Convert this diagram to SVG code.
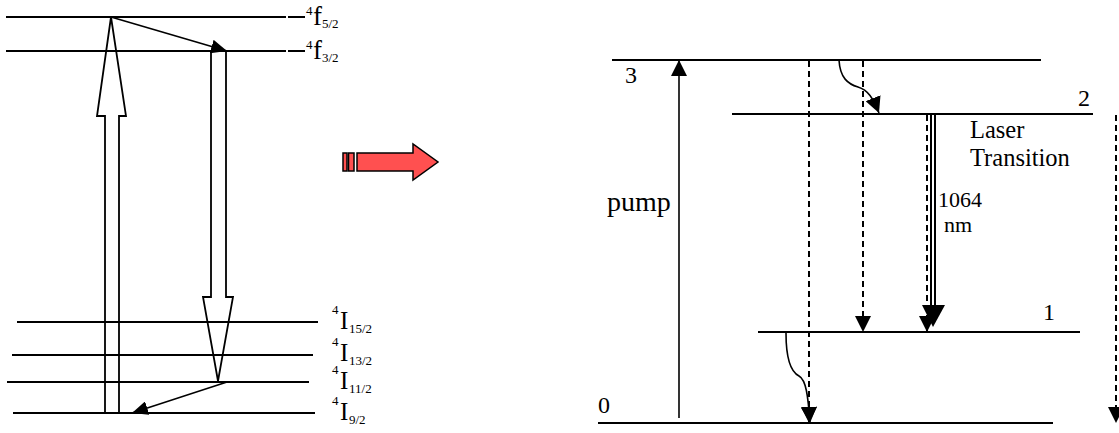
<svg xmlns="http://www.w3.org/2000/svg" width="1119" height="433" viewBox="0 0 1119 433">
<style>
.lvl{stroke:#000;stroke-width:2;fill:none}
.thin{stroke:#000;stroke-width:1.6;fill:none}
.dash{stroke:#000;stroke-width:2;fill:none;stroke-dasharray:6 4}
.hollow{stroke:#000;stroke-width:1.8;fill:none;stroke-linejoin:miter}
text{font-family:'Liberation Serif','Times New Roman','DejaVu Serif',serif;fill:#000}
.m{font-size:27px}
.mi{font-size:25px}
.s{font-size:13px}
.d{font-size:24px}
.head{fill:#000;stroke:none}
</style>
<defs>
<marker id="ah" viewBox="0 0 16 16" markerWidth="16" markerHeight="16" refX="16" refY="8" orient="auto" markerUnits="userSpaceOnUse"><path d="M0,0 L16,8 L0,16 z" fill="#000"/></marker>
<marker id="ahs" viewBox="0 0 16 14" markerWidth="16" markerHeight="14" refX="16" refY="7" orient="auto" markerUnits="userSpaceOnUse"><path d="M0,0 L16,7 L0,14 z" fill="#000"/></marker>
</defs>
<rect width="1119" height="433" fill="#fff"/>

<g id="left-levels">
<g id="f52"><line class="lvl" x1="6" y1="17" x2="286" y2="17"/><line class="lvl" x1="288" y1="17" x2="305" y2="17"/>
<text class="s" x="306" y="15">4</text><text class="m" x="313" y="25">f</text><text class="s" x="322" y="28">5/2</text></g>
<g id="f32"><line class="lvl" x1="6" y1="51" x2="286" y2="51"/><line class="lvl" x1="288" y1="51" x2="305" y2="51"/>
<text class="s" x="306" y="49">4</text><text class="m" x="313" y="59">f</text><text class="s" x="322" y="62">3/2</text></g>
<g id="I152"><line class="lvl" x1="17" y1="322" x2="318" y2="322"/>
<text class="s" x="332" y="314">4</text><text class="mi" x="340" y="329">I</text><text class="s" x="349" y="333">15/2</text></g>
<g id="I132"><line class="lvl" x1="12" y1="355" x2="313" y2="355"/>
<text class="s" x="332" y="346">4</text><text class="mi" x="340" y="361">I</text><text class="s" x="349" y="365">13/2</text></g>
<g id="I112"><line class="lvl" x1="7" y1="382" x2="309" y2="382"/>
<text class="s" x="332" y="374">4</text><text class="mi" x="340" y="389">I</text><text class="s" x="349" y="393">11/2</text></g>
<g id="I92"><line class="lvl" x1="13" y1="413" x2="315" y2="413"/>
<text class="s" x="332" y="405">4</text><text class="mi" x="340" y="420">I</text><text class="s" x="349" y="424">9/2</text></g>
</g>

<g id="left-connectors">
<polygon class="hollow" points="111,17 126,116 119,116 119,413 105,413 105,116 97,116"/>
<polygon class="hollow" points="211,51 226,51 226,297 233,297 218,381 203,297 211,297"/>
<line class="thin" x1="111" y1="17" x2="227" y2="51" marker-end="url(#ahs)"/>
<line class="thin" x1="227" y1="382" x2="132" y2="413" marker-end="url(#ahs)"/>
</g>

<g id="red-arrow">
<rect x="343" y="153" width="4" height="18" fill="#ff5050" stroke="#000" stroke-width="1.5"/>
<rect x="348.5" y="153" width="5.5" height="18" fill="#ff5050" stroke="#000" stroke-width="1.5"/>
<polygon points="357,153 413,153 413,144 438,162 413,180 413,171 357,171" fill="#ff5050" stroke="#000" stroke-width="1.5" stroke-linejoin="miter"/>
</g>

<g id="right-levels">
<g id="L3"><line class="lvl" x1="612" y1="60" x2="1041" y2="60"/><text class="d" x="625" y="83">3</text></g>
<g id="L2"><line class="lvl" x1="732" y1="114" x2="1093" y2="114"/><text class="d" x="1078" y="106">2</text></g>
<g id="L1"><line class="lvl" x1="758" y1="332" x2="1080" y2="332"/><text class="d" x="1043" y="320">1</text></g>
<g id="L0"><line class="lvl" x1="598" y1="423" x2="1053" y2="423"/><text class="d" x="598" y="413">0</text></g>
<g id="labels">
<text x="607" y="211" font-size="28">pump</text>
<text x="970" y="138" font-size="24.5">Laser</text>
<text x="970" y="166" font-size="24.5">Transition</text>
<text x="938" y="207" font-size="22">1064</text>
<text x="944" y="232" font-size="22">nm</text>
</g>
</g>

<g id="right-connectors">
<line class="thin" x1="679" y1="418" x2="679" y2="60" marker-end="url(#ah)"/>
<line class="dash" x1="809" y1="61" x2="809" y2="423" marker-end="url(#ah)"/>
<line class="dash" x1="863" y1="61" x2="863" y2="332" marker-end="url(#ah)"/>
<line class="dash" x1="1116" y1="115" x2="1116" y2="423" marker-end="url(#ah)"/>
<path class="thin" d="M839,60 C840,78 848,84 858,87 C868,90 873,98 879,113" marker-end="url(#ah)"/>
<path class="thin" d="M786,333 C786,360 791,372 799,376 C806,380 808,395 810,423" marker-end="url(#ah)"/>
<line class="dash" x1="927" y1="115" x2="927" y2="332" marker-end="url(#ah)"/>
<line class="lvl" x1="931" y1="115" x2="931" y2="310"/>
<line class="lvl" stroke-width="2.5" x1="935" y1="115" x2="935" y2="310"/>
<polygon class="head" points="922,305 945,305 933,327"/>
</g>
</svg>
